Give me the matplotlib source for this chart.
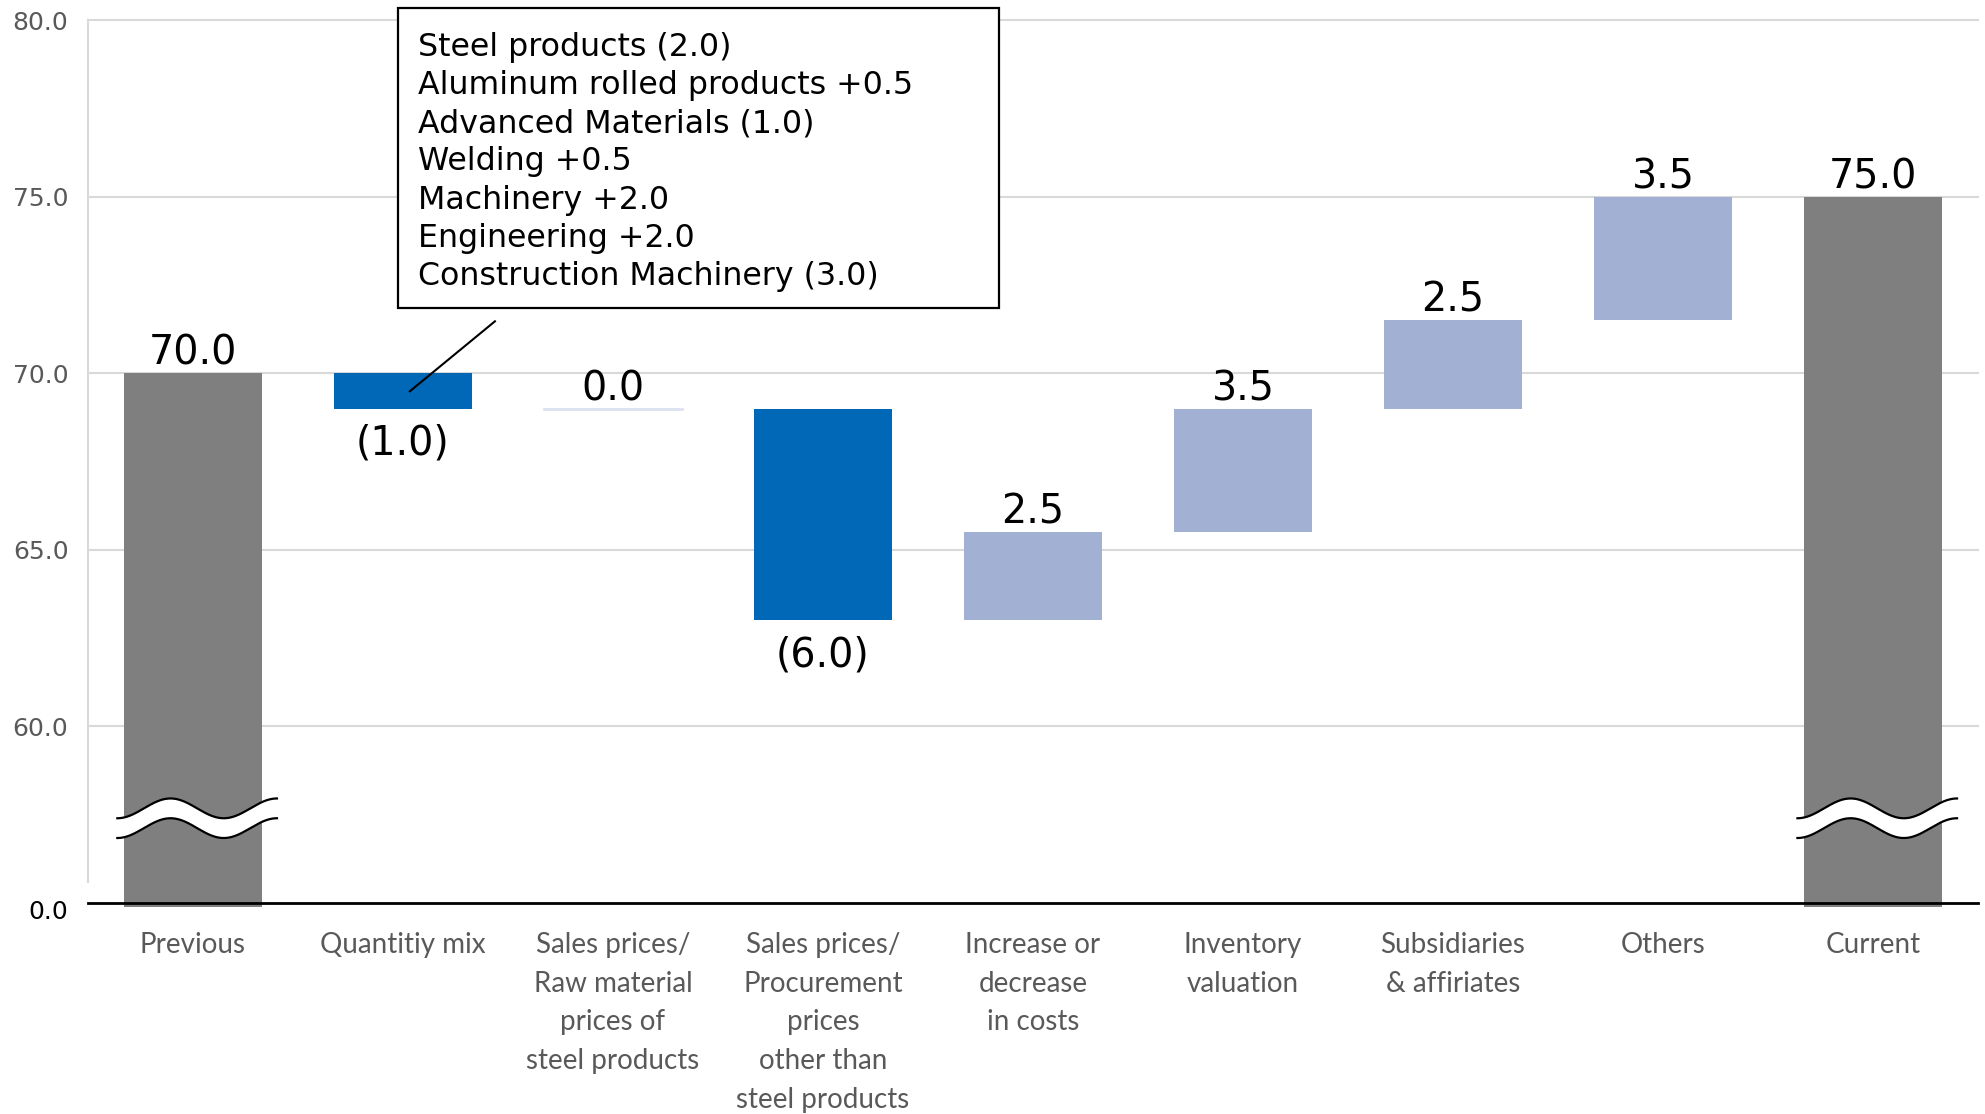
import numpy as np
import matplotlib
matplotlib.use("Agg")
import matplotlib.pyplot as plt
from matplotlib.patches import Rectangle
from matplotlib.transforms import ScaledTranslation

# waterfall data
categories = [
    "Previous", "Quantitiy mix",
    "Sales prices/\nRaw material\nprices of\nsteel products",
    "Sales prices/\nProcurement\nprices\nother than\nsteel products",
    "Increase or\ndecrease\nin costs",
    "Inventory\nvaluation",
    "Subsidiaries\n& affiriates",
    "Others", "Current",
]
previous_total = 70.0
changes = [-1.0, 0.0, -6.0, 2.5, 3.5, 2.5, 3.5]
current_total = 75.0

callout_lines = [
    "Steel products (2.0)",
    "Aluminum rolled products +0.5",
    "Advanced Materials (1.0)",
    "Welding +0.5",
    "Machinery +2.0",
    "Engineering +2.0",
    "Construction Machinery (3.0)",
]

y_ticks = [60.0, 65.0, 70.0, 75.0, 80.0]
AXIS_FLOOR = 55.0   # the broken axis draws 0.0 here

GRAY = "#7f7f7f"
BLUE = "#0068b7"
LIGHT = "#a2b1d3"
ZERO = "#dbe1ef"
TEXT_GRAY = "#595959"
BAR_W = 0.66
VALUE_FS = 28.5


def fmt(v):
    return f"({abs(v):.1f})" if v < 0 else f"{v:.1f}"


def axis_break(ax, xc, yc=57.4, half_gap=0.28, amp=0.28):
    # wavy white band across a total bar
    xs = np.linspace(xc - 0.37, xc + 0.39, 200)
    phase = (xs - xs[0]) / (xs[-1] - xs[0]) * 3 * np.pi
    wave = -amp * np.cos(phase)
    upper = yc + half_gap + wave
    lower = yc - half_gap + wave
    ax.fill_between(xs, lower, upper, color="white", zorder=4, lw=0)
    ax.plot(xs, upper, color="black", lw=1.6, zorder=5)
    ax.plot(xs, lower, color="black", lw=1.6, zorder=5)


def label_above(ax, x, y, s):
    ax.annotate(s, (x, y), xytext=(0, -0.5), textcoords="offset points",
                ha="center", va="bottom", fontsize=VALUE_FS, color="black")


def label_below(ax, x, y, s):
    ax.annotate(s, (x, y), xytext=(0, -11), textcoords="offset points",
                ha="center", va="top", fontsize=VALUE_FS, color="black")


fig = plt.figure(figsize=(19.85, 11.14), dpi=100)
ax = fig.add_axes([0.0443, 0.1894, 0.9522, 0.7926])
ax.set_xlim(-0.5, 8.5)
ax.set_ylim(AXIS_FLOOR, 80.0)

for y in y_ticks:
    ax.axhline(y, color="#d9d9d9", lw=1.5, zorder=0, clip_on=False)

# totals
for i, total in [(0, previous_total), (8, current_total)]:
    ax.bar(i, total - AXIS_FLOOR + 0.1, bottom=AXIS_FLOOR - 0.1, width=BAR_W,
           color=GRAY, zorder=2, clip_on=False)
    label_above(ax, i, total, fmt(total))
    axis_break(ax, i + 0.01)

# changes
level = previous_total
for k, d in enumerate(changes):
    i = k + 1
    lo, hi = (level + d, level) if d < 0 else (level, level + d)
    if d == 0:
        ax.plot([i - BAR_W / 2, i + BAR_W / 2], [level, level], color=ZERO,
                lw=2, zorder=2)
    else:
        ax.bar(i, hi - lo, bottom=lo, width=BAR_W,
               color=BLUE if d < 0 else LIGHT, zorder=2)
    if d < 0:
        label_below(ax, i, lo, fmt(d))
    else:
        label_above(ax, i, hi, fmt(d))
    level += d

# callout box for the quantity mix breakdown
ax.add_patch(Rectangle((0.976, 71.84), 3.838 - 0.976, 80.34 - 71.84,
                       facecolor="white", edgecolor="black", lw=1.6,
                       zorder=6, clip_on=False))
ax.text(1.071, 79.67, "\n".join(callout_lines), ha="left", va="top",
        fontsize=22.8, linespacing=1.3, color="black", zorder=7, clip_on=False)
ax.plot([1.438, 1.033], [71.47, 69.49], color="black", lw=1.5, zorder=7)

# axes styling
ax.set_yticks([AXIS_FLOOR] + y_ticks)
ax.set_yticklabels(["0.0"] + [f"{y:.1f}" for y in y_ticks])
ax.tick_params(axis="y", length=0, pad=14, labelsize=18, labelcolor=TEXT_GRAY)
zero_lbl = ax.get_yticklabels()[0]
zero_lbl.set_color("black")
zero_lbl.set_transform(zero_lbl.get_transform()
                       + ScaledTranslation(0, -5 / 72, fig.dpi_scale_trans))

ax.set_xticks(range(len(categories)))
ax.set_xticklabels(categories, family="Lato", fontsize=20, color=TEXT_GRAY)
for t in ax.get_xticklabels():
    t.set_linespacing(1.6)
ax.tick_params(axis="x", length=0, pad=21)

for side in ["top", "right"]:
    ax.spines[side].set_visible(False)
ax.spines["left"].set_color("#d9d9d9")
ax.spines["left"].set_linewidth(1.5)
ax.spines["left"].set_bounds(55.6, 80.0)
ax.spines["bottom"].set_color("black")
ax.spines["bottom"].set_linewidth(2)
ax.spines["bottom"].set_zorder(3)

fig.savefig("out.png", dpi=100)
